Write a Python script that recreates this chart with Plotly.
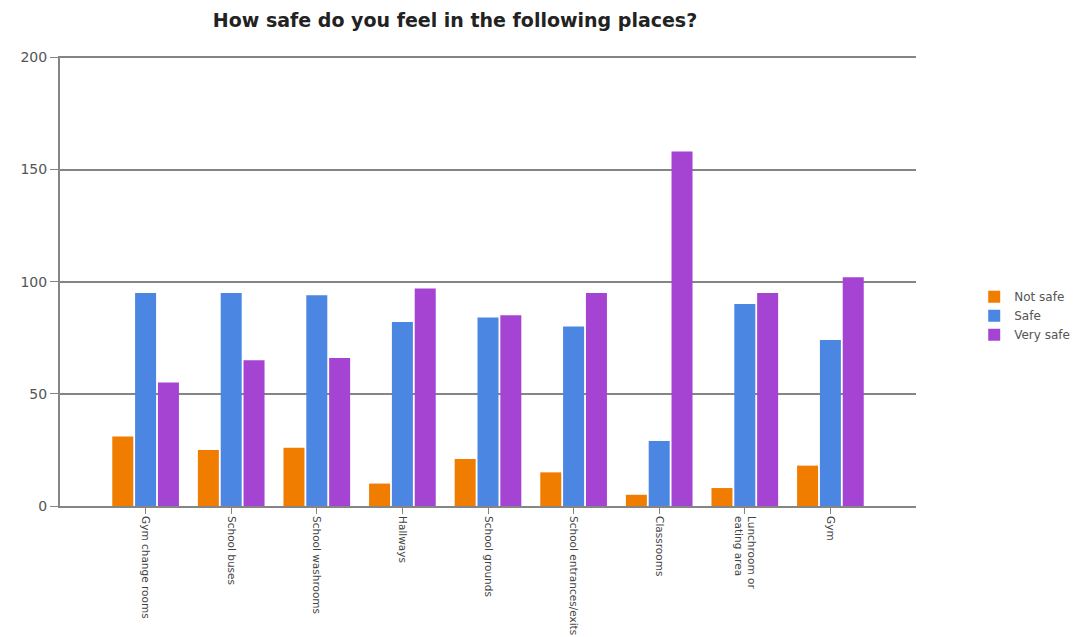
import plotly.graph_objects as go

places = [
    "Gym change rooms",
    "School buses",
    "School washrooms",
    "Hallways",
    "School grounds",
    "School entrances/exits",
    "Classrooms",
    "Lunchroom or<br>eating area",
    "Gym",
]
not_safe = [31, 25, 26, 10, 21, 15, 5, 8, 18]
safe = [95, 95, 94, 82, 84, 80, 29, 90, 74]
very_safe = [55, 65, 66, 97, 85, 95, 158, 95, 102]

series = [
    ("Not safe", not_safe, "#f07d00"),
    ("Safe", safe, "#4a86e2"),
    ("Very safe", very_safe, "#a543d2"),
]

fig = go.Figure()
for name, vals, color in series:
    fig.add_trace(go.Bar(
        x=list(range(len(places))),
        y=vals,
        name=name,
        marker=dict(color=color, line=dict(width=0)),
    ))

fig.update_layout(
    width=1091,
    height=637,
    margin=dict(l=60, r=175, t=56, b=131),
    paper_bgcolor="white",
    plot_bgcolor="white",
    barmode="group",
    bargap=0.2,
    bargroupgap=0.08,
    title=dict(
        text="<b>How safe do you feel in the following places?</b>",
        x=455 / 1091,
        xanchor="center",
        y=1 - 20 / 637,
        yanchor="middle",
        font=dict(family="DejaVu Sans", size=19, color="#222222"),
    ),
    legend=dict(
        x=1.068,
        xanchor="left",
        y=0.423,
        yanchor="middle",
        font=dict(family="DejaVu Sans", size=12, color="#555555"),
        itemwidth=30,
        tracegroupgap=2,
    ),
    showlegend=True,
)

fig.update_yaxes(
    range=[0, 200.6],
    tickvals=[0, 50, 100, 150, 200],
    automargin=False,
    showgrid=True,
    gridcolor="#858585",
    gridwidth=2,
    showline=True,
    linecolor="#858585",
    linewidth=2,
    ticks="outside",
    ticklen=8,
    tickcolor="#858585",
    tickfont=dict(family="DejaVu Sans", size=14, color="#555555"),
    zeroline=False,
)

fig.update_xaxes(
    range=[-1, len(places)],
    tickvals=list(range(len(places))),
    ticktext=places,
    tickangle=90,
    automargin=False,
    showgrid=False,
    showline=True,
    linecolor="#858585",
    linewidth=2,
    ticks="outside",
    ticklen=6,
    tickcolor="#858585",
    tickfont=dict(family="DejaVu Sans", size=10.5, color="#444444"),
)

fig.write_html("out.html")
